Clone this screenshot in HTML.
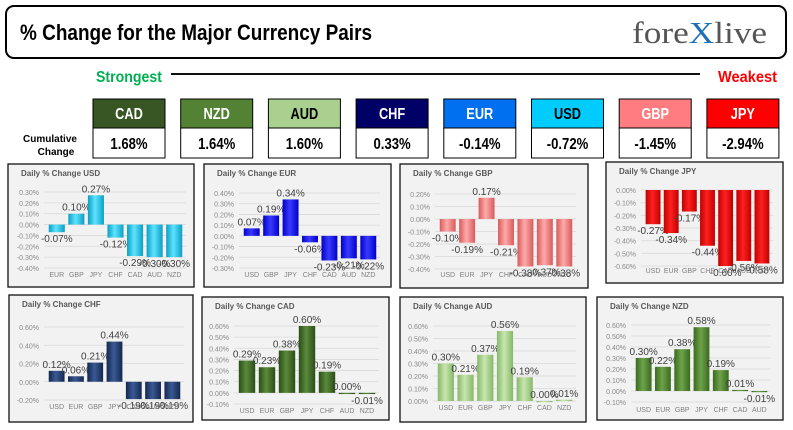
<!DOCTYPE html>
<html><head><meta charset="utf-8"><style>
body{margin:0;background:#fff;width:793px;height:430px;overflow:hidden}
svg{display:block;font-family:"Liberation Sans",sans-serif}
.hd{font-family:"Liberation Sans Narrow","Liberation Sans",sans-serif;font-weight:bold}
</style></head><body>
<svg id="s" width="793" height="430" viewBox="0 0 793 430">
<rect x="6" y="6" width="780" height="52" rx="8" fill="#fff" stroke="#000" stroke-width="2"/>
<text x="20" y="40" class="hd" font-size="22" fill="#000" textLength="352" lengthAdjust="spacingAndGlyphs">% Change for the Major Currency Pairs</text>
<text x="632" y="43" font-family="Liberation Serif,serif" font-size="31" fill="#555" textLength="135" lengthAdjust="spacingAndGlyphs">fore<tspan fill="#1f6fb5">X</tspan>live</text>
<text x="96" y="82" class="hd" font-size="16" fill="#00b050" textLength="66" lengthAdjust="spacingAndGlyphs">Strongest</text>
<line x1="171" y1="74" x2="700" y2="74" stroke="#111" stroke-width="2"/>
<text x="718" y="82" class="hd" font-size="16" fill="#ff0000" textLength="59" lengthAdjust="spacingAndGlyphs">Weakest</text>
<text x="50" y="142" class="hd" font-size="10" text-anchor="middle" fill="#000">Cumulative</text>
<text x="56" y="155" class="hd" font-size="10" text-anchor="middle" fill="#000">Change</text>
<g id="boxes"></g>
<g id="charts"></g>
</svg>
<script>
const NS="http://www.w3.org/2000/svg";
const svg=document.getElementById('s');
function mk(t,a,p){const e=document.createElementNS(NS,t);for(const k in a)e.setAttribute(k,a[k]);(p||svg).appendChild(e);return e;}
const curNames=["CAD","NZD","AUD","CHF","EUR","USD","GBP","JPY"];
const curValues=["1.68%","1.64%","1.60%","0.33%","-0.14%","-0.72%","-1.45%","-2.94%"];
const curBg=["#375623","#548235","#a9d08e","#000066","#0070f0","#00ccff","#ff7c80","#ff0000"];
const curFg=["#fff","#fff","#000","#fff","#fff","#000","#fff","#fff"];
const bx=document.getElementById('boxes');
curNames.forEach((n,i)=>{
  const x=93+i*87.7;
  const r=mk('rect',{x:x,y:99,width:72,height:29,fill:curBg[i],stroke:'#000','stroke-width':1},bx);
  
  
  const t=mk('text',{x:x+36,y:119,'text-anchor':'middle','font-size':16,fill:curFg[i],class:'hd',transform:'translate('+(x+36)+',0) scale(0.8,1) translate('+(-(x+36))+',0)'},bx);t.textContent=n;
  
  
  const r2=mk('rect',{x:x,y:128,width:72,height:30,fill:'#fff',stroke:'#000','stroke-width':1},bx);
  
  
  const t2=mk('text',{x:x+36,y:149,'text-anchor':'middle','font-size':16,fill:'#000',class:'hd',transform:'translate('+(x+36)+',0) scale(0.82,1) translate('+(-(x+36))+',0)'},bx);t2.textContent=curValues[i];
  
  
});

// chart data
const usdCats=["EUR","GBP","JPY","CHF","CAD","AUD","NZD"];
const usdVals=[-0.07,0.10,0.27,-0.12,-0.29,-0.30,-0.30];
const usdTicks=[0.3,0.2,0.1,0,-0.1,-0.2,-0.3,-0.4];
const eurCats=["USD","GBP","JPY","CHF","CAD","AUD","NZD"];
const eurVals=[0.07,0.19,0.34,-0.06,-0.23,-0.21,-0.22];
const eurTicks=[0.4,0.3,0.2,0.1,0,-0.1,-0.2,-0.3];
const gbpCats=["USD","EUR","JPY","CHF","CAD","AUD","NZD"];
const gbpVals=[-0.10,-0.19,0.17,-0.21,-0.38,-0.37,-0.38];
const gbpTicks=[0.2,0.1,0,-0.1,-0.2,-0.3,-0.4];
const jpyCats=["USD","EUR","GBP","CHF","CAD","AUD","NZD"];
const jpyVals=[-0.27,-0.34,-0.17,-0.44,-0.60,-0.56,-0.58];
const jpyTicks=[0,-0.1,-0.2,-0.3,-0.4,-0.5,-0.6];
const chfCats=["USD","EUR","GBP","JPY","CAD","AUD","NZD"];
const chfVals=[0.12,0.06,0.21,0.44,-0.19,-0.19,-0.19];
const chfTicks=[0.6,0.4,0.2,0,-0.2];
const cadCats=["USD","EUR","GBP","JPY","CHF","AUD","NZD"];
const cadVals=[0.29,0.23,0.38,0.60,0.19,0.00,-0.01];
const cadTicks=[0.6,0.5,0.4,0.3,0.2,0.1,0,-0.1];
const audCats=["USD","EUR","GBP","JPY","CHF","CAD","NZD"];
const audVals=[0.30,0.21,0.37,0.56,0.19,0.00,0.01];
const audTicks=[0.6,0.5,0.4,0.3,0.2,0.1,0];
const nzdCats=["USD","EUR","GBP","JPY","CHF","CAD","AUD"];
const nzdVals=[0.30,0.22,0.38,0.58,0.19,0.01,-0.01];
const nzdTicks=[0.6,0.5,0.4,0.3,0.2,0.1,0,-0.1];

const charts=[
 {id:'usd',cats:usdCats,vals:usdVals,ticks:usdTicks,box:[8,164,186,123],yTop:192,yBot:268,x0:47,x1:184,lab:277,c1:'#0a9fc4',c2:'#5fe3ff'},
 {id:'eur',cats:eurCats,vals:eurVals,ticks:eurTicks,box:[204,164,187,123],yTop:193,yBot:268,x0:242,x1:378,lab:277,c1:'#0000c8',c2:'#3a3aff'},
 {id:'gbp',cats:gbpCats,vals:gbpVals,ticks:gbpTicks,box:[400,164,188,124],yTop:194,yBot:269,x0:438,x1:574,lab:277,c1:'#d85a5a',c2:'#ffaaaa'},
 {id:'jpy',cats:jpyCats,vals:jpyVals,ticks:jpyTicks,box:[606,162,177,121],yTop:190,yBot:266,x0:644,x1:771,lab:273,c1:'#c00000',c2:'#ff2020'},
 {id:'chf',cats:chfCats,vals:chfVals,ticks:chfTicks,box:[9,295,184,127],yTop:327,yBot:400,x0:47,x1:182,lab:409,c1:'#14274f',c2:'#3a5a94'},
 {id:'cad',cats:cadCats,vals:cadVals,ticks:cadTicks,box:[202,297,187,123],yTop:326,yBot:404,x0:237,x1:377,lab:413,c1:'#2b4d18',c2:'#5a8a3a'},
 {id:'aud',cats:audCats,vals:audVals,ticks:audTicks,box:[400,297,186,125],yTop:326,yBot:401,x0:436,x1:574,lab:410,c1:'#86b868',c2:'#c8e6b0'},
 {id:'nzd',cats:nzdCats,vals:nzdVals,ticks:nzdTicks,box:[597,297,186,123],yTop:325,yBot:402,x0:634,x1:769,lab:412,c1:'#3a6a20',c2:'#6fa34a'}
];
const defs=mk('defs',{});
const cg=document.getElementById('charts');
charts.forEach(c=>{
  const g=mk('g',{},cg);
  
  
  const gr=mk('linearGradient',{id:'g'+c.id,x1:0,x2:1,y1:0,y2:0},defs);
  mk('stop',{offset:'0',style:'stop-color:'+c.c1},gr);
  mk('stop',{offset:'0.45',style:'stop-color:'+c.c2},gr);
  mk('stop',{offset:'1',style:'stop-color:'+c.c1},gr);
  const [bx0,by0,bw,bh]=c.box;
  const fr=mk('rect',{x:bx0,y:by0,width:bw,height:bh,fill:'#f2f2f2',stroke:'#111','stroke-width':1.3},g);
  
  
  const tt=mk('text',{x:bx0+13,y:by0+12,'font-size':8,'font-weight':'bold',fill:'#595959'},g);
  tt.textContent='Daily % Change '+c.id.toUpperCase();
  
  
  const tmax=c.ticks[0],tmin=c.ticks[c.ticks.length-1];
  const y=v=>c.yTop+(tmax-v)/(tmax-tmin)*(c.yBot-c.yTop);
  const n=c.cats.length,step=(c.x1-c.x0)/n;
  const xc=i=>c.x0+step*(i+0.5);
  c.ticks.forEach(t=>{
    const l=mk('line',{x1:c.x0-3,x2:c.x1+2,y1:y(t),y2:y(t),stroke:'#d9d9d9','stroke-width':0.8},g);
    
    
    const tx=mk('text',{x:c.x0-8,y:y(t)+3,'font-size':7,'text-anchor':'end',fill:'#8a8a8a'},g);
    tx.textContent=t.toFixed(2)+'%';
    
    
  });
  c.vals.forEach((v,i)=>{
    const bw2=step*0.82,y0=y(0),yv=y(v);
    const top=Math.min(y0,yv),h=Math.max(Math.abs(yv-y0),1.2);
    const b=mk('rect',{x:xc(i)-bw2/2,y:top,width:bw2,height:h,fill:'url(#g'+c.id+')'},g);
    
    
    const vl=mk('text',{x:xc(i),y:v>=0?yv-3:yv+10,'font-size':10,'text-anchor':'middle',fill:'#404040'},g);
    vl.textContent=v.toFixed(2)+'%';
    
    
    const cl=mk('text',{x:xc(i),y:c.lab,'font-size':7,'text-anchor':'middle',fill:'#7f7f7f'},g);
    cl.textContent=c.cats[i];
    
    
  });
});
</script>
</body></html>
